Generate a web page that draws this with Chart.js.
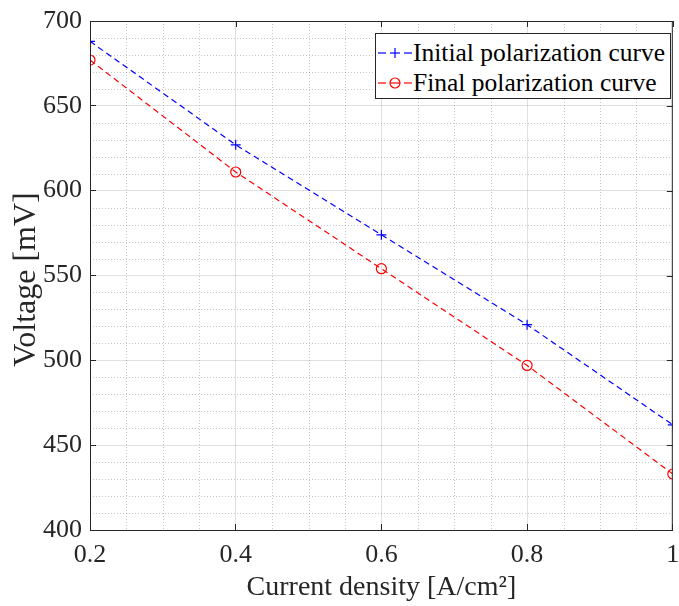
<!DOCTYPE html>
<html>
<head>
<meta charset="utf-8">
<script src="https://cdn.jsdelivr.net/npm/chart.js@4.4.1/dist/chart.umd.min.js"></script>
<style>
  body { margin: 0; background: #fff; overflow: hidden; }
  #wrap { position: relative; width: 679px; height: 606px; }
  #legend {
    position: absolute; left: 375px; top: 33px; width: 294px; height: 64px;
    background: #fff; border: 1px solid #262626;
    font-family: "Liberation Serif", "Times New Roman", serif; font-size: 25.5px; color: #000;
  }
  .row { position: absolute; left: 0; height: 30px; line-height: 30px; white-space: nowrap; }
  .row svg { position: absolute; left: 2px; top: 0; }
  .row span { position: absolute; left: 37px; top: 0; }
</style>
</head>
<body>
<div id="wrap">
  <canvas id="chart" width="679" height="606"></canvas>
  <div id="legend">
    <div class="row" style="top:4px">
      <svg width="34" height="30"><line x1="0" y1="15" x2="8" y2="15" stroke="#0000ff" stroke-width="1.2"/><line x1="26" y1="15" x2="34" y2="15" stroke="#0000ff" stroke-width="1.2"/><line x1="12" y1="15" x2="22" y2="15" stroke="#0000ff" stroke-width="1.2"/><line x1="17" y1="10" x2="17" y2="20" stroke="#0000ff" stroke-width="1.2"/></svg>
      <span>Initial polarization curve</span>
    </div>
    <div class="row" style="top:34px">
      <svg width="34" height="30"><line x1="0" y1="15" x2="8" y2="15" stroke="#ff0000" stroke-width="1.2"/><line x1="26" y1="15" x2="34" y2="15" stroke="#ff0000" stroke-width="1.2"/><circle cx="17" cy="15" r="5" fill="none" stroke="#ff0000" stroke-width="1.2"/><line x1="12" y1="15" x2="22" y2="15" stroke="#ff0000" stroke-width="1.2"/></svg>
      <span>Final polarization curve</span>
    </div>
  </div>
</div>
<script>
var currentDensity = [0.2, 0.4, 0.6, 0.8, 1.0];
var initialVoltage = [688, 627, 574, 521, 462];
var finalVoltage = [677, 611, 554, 497, 433];
var xTicks = [0.2, 0.4, 0.6, 0.8, 1];
var yTicks = [400, 450, 500, 550, 600, 650, 700];

var serif = "'Liberation Serif', 'Times New Roman', serif";
var axisColor = "#262626";
var majorGrid = "rgba(0,0,0,0.12)";
var minorGrid = "rgba(0,0,0,0.22)";

function isMajorX(v) {
  return xTicks.some(function(t) { return Math.abs(t - v) < 1e-6; });
}
function isMajorY(v) {
  return yTicks.some(function(t) { return Math.abs(t - v) < 1e-6; });
}

function toPoints(xs, ys) {
  return xs.map(function(x, i) { return { x: x, y: ys[i] }; });
}

// dotted minor grid, taken from the scales' own ticks
var minorGridPlugin = {
  id: "minorGrid",
  beforeDatasetsDraw: function(chart) {
    var ctx = chart.ctx;
    var a = chart.chartArea;
    ctx.save();
    ctx.strokeStyle = minorGrid;
    ctx.lineWidth = 1;
    ctx.setLineDash([1, 2]);
    ctx.beginPath();
    chart.scales.x.ticks.forEach(function(t) {
      if (isMajorX(t.value)) return;
      var px = Math.round(chart.scales.x.getPixelForValue(t.value)) + 0.5;
      ctx.moveTo(px, a.top);
      ctx.lineTo(px, a.bottom);
    });
    chart.scales.y.ticks.forEach(function(t) {
      if (isMajorY(t.value)) return;
      var py = Math.round(chart.scales.y.getPixelForValue(t.value)) + 0.5;
      ctx.moveTo(a.left, py);
      ctx.lineTo(a.right, py);
    });
    ctx.stroke();
    ctx.restore();
  }
};

// frame round the plot area plus the mirrored inward ticks (top and right)
var framePlugin = {
  id: "frame",
  afterDraw: function(chart) {
    var ctx = chart.ctx;
    var a = chart.chartArea;
    var xs = chart.scales.x;
    var ys = chart.scales.y;
    ctx.save();
    ctx.strokeStyle = axisColor;
    ctx.lineWidth = 1;
    ctx.strokeRect(a.left + 0.5, a.top + 0.5, a.right - a.left - 1, a.bottom - a.top);
    ctx.beginPath();
    xTicks.forEach(function(t) {
      var px = Math.round(xs.getPixelForValue(t)) + 0.5;
      ctx.moveTo(px, a.top);
      ctx.lineTo(px, a.top + 6);
    });
    yTicks.forEach(function(t) {
      var py = Math.round(ys.getPixelForValue(t)) + 0.5;
      ctx.moveTo(a.right, py);
      ctx.lineTo(a.right - 6, py);
    });
    ctx.stroke();
    ctx.restore();
  }
};

var chart = new Chart(document.getElementById("chart"), {
  type: "line",
  data: {
    datasets: [
      {
        label: "Initial polarization curve",
        data: toPoints(currentDensity, initialVoltage),
        borderColor: "#0000ff",
        backgroundColor: "#0000ff",
        borderWidth: 1.2,
        borderDash: [6, 4],
        pointStyle: "cross",
        pointRadius: 5,
        pointBorderWidth: 1.2,
        fill: false,
        tension: 0
      },
      {
        label: "Final polarization curve",
        data: toPoints(currentDensity, finalVoltage),
        borderColor: "#ff0000",
        backgroundColor: "rgba(0,0,0,0)",
        borderWidth: 1.2,
        borderDash: [6, 4],
        pointStyle: "circle",
        pointRadius: 5,
        pointBorderWidth: 1.2,
        fill: false,
        tension: 0
      }
    ]
  },
  options: {
    responsive: false,
    animation: false,
    layout: { padding: { top: 21, right: 1, left: 0, bottom: 0 } },
    plugins: {
      legend: { display: false },
      tooltip: { enabled: false }
    },
    scales: {
      x: {
        type: "linear",
        min: 0.2,
        max: 1,
        afterFit: function(s) { s.height = 76; s.paddingRight = 0; s.paddingLeft = 0; },
        ticks: {
          stepSize: 0.05,
          autoSkip: false,
          maxRotation: 0,
          padding: 16,
          color: axisColor,
          font: { family: serif, size: 26 },
          callback: function(v) { return isMajorX(v) ? String(Math.round(v * 10) / 10) : ""; }
        },
        grid: {
          color: function(c) { return c.tick && isMajorX(c.tick.value) ? majorGrid : "rgba(0,0,0,0)"; },
          lineWidth: 1,
          tickLength: -6,
          tickColor: function(c) { return c.tick && isMajorX(c.tick.value) ? axisColor : "rgba(0,0,0,0)"; }
        },
        border: { color: axisColor, width: 1 },
        title: {
          display: true,
          text: "Current density [A/cm²]",
          color: axisColor,
          font: { family: serif, size: 28 },
          padding: { top: 0, bottom: 2 }
        }
      },
      y: {
        type: "linear",
        min: 400,
        max: 700,
        afterFit: function(s) { s.width = 90; s.paddingTop = 0; s.paddingBottom = 0; },
        ticks: {
          stepSize: 10,
          autoSkip: false,
          padding: 14,
          color: axisColor,
          font: { family: serif, size: 26 },
          callback: function(v) { return isMajorY(v) ? String(v) : ""; }
        },
        grid: {
          color: function(c) { return c.tick && isMajorY(c.tick.value) ? majorGrid : "rgba(0,0,0,0)"; },
          lineWidth: 1,
          tickLength: -6,
          tickColor: function(c) { return c.tick && isMajorY(c.tick.value) ? axisColor : "rgba(0,0,0,0)"; }
        },
        border: { color: axisColor, width: 1 },
        title: {
          display: true,
          text: "Voltage [mV] ",
          color: axisColor,
          font: { family: serif, size: 32 },
          padding: { top: 7, bottom: 0 }
        }
      }
    }
  },
  plugins: [minorGridPlugin, framePlugin]
});
</script>
</body>
</html>
